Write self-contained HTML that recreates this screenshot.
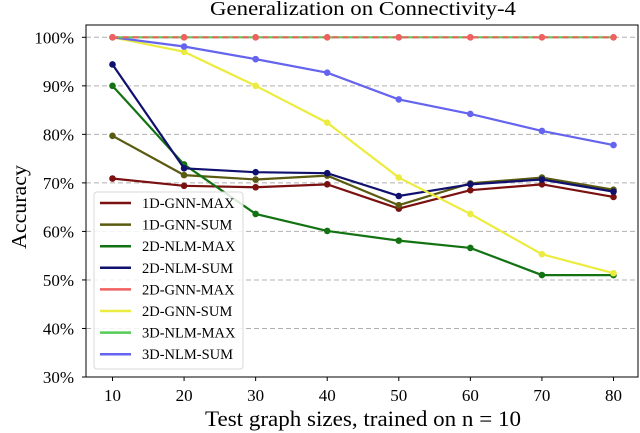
<!DOCTYPE html>
<html><head><meta charset="utf-8"><style>
body{margin:0;background:#fff;}
svg{display:block;font-family:"Liberation Serif",serif;}
</style></head><body>
<svg id="chart" width="640" height="433" viewBox="0 0 640 433"></svg>
<script>
const categories=[10,20,30,40,50,60,70,80];
const yTicks=[30,40,50,60,70,80,90,100];
const seriesNames=["1D-GNN-MAX","1D-GNN-SUM","2D-NLM-MAX","2D-NLM-SUM","2D-GNN-MAX","2D-GNN-SUM","3D-NLM-MAX","3D-NLM-SUM"];
const seriesColors=["#7b1010","#5a5a10","#137313","#10106e","#f06060","#ecec40","#55cc55","#6464ee"];
const s1dGnnMax=[70.9,69.4,69.1,69.7,64.7,68.5,69.7,67.1];
const s1dGnnSum=[79.7,71.6,70.7,71.5,65.4,69.9,71.1,68.6];
const s2dNlmMax=[90.0,73.8,63.6,60.1,58.1,56.6,51.0,51.0];
const s2dNlmSum=[94.4,73.0,72.2,72.0,67.3,69.7,70.7,68.2];
const s2dGnnMax=[100,100,100,100,100,100,100,100];
const s2dGnnSum=[100,97.0,90.0,82.4,71.1,63.6,55.3,51.4];
const s3dNlmMax=[100,100,100,100,100,100,100,100];
const s3dNlmSum=[100,98.1,95.5,92.7,87.2,84.2,80.7,77.8];
const allSeries=[s1dGnnMax,s1dGnnSum,s2dNlmMax,s2dNlmSum,s2dGnnMax,s2dGnnSum,s3dNlmMax,s3dNlmSum];
const drawOrder=[0,1,2,3,5,7,6,4];

const L=86,R=638,T=25,B=377;
const xs=v=>112.5+(v-10)*(613.5-112.5)/70;
const ys=v=>B-(v-30)*(B-37.3)/70;
const svg=document.getElementById('chart');
const NS="http://www.w3.org/2000/svg";
function mk(tag,attrs,parent){const e=document.createElementNS(NS,tag);for(const k in attrs)e.setAttribute(k,attrs[k]);(parent||svg).appendChild(e);return e;}

let t=mk('text',{x:363,y:15,'text-anchor':'middle','font-size':20,fill:'#000',textLength:306,lengthAdjust:'spacingAndGlyphs'});
t.textContent="Generalization on Connectivity-4";



yTicks.forEach(v=>{
  const y=ys(v);
  if(v>30){const g=mk('line',{x1:L,x2:R,y1:y,y2:y,stroke:'#b0b0b0','stroke-width':1,'stroke-dasharray':'5,3'});
  
  }
  mk('line',{x1:L-4,x2:L,y1:y,y2:y,stroke:'#000'});
  const lab=mk('text',{x:L-12,y:y+6,'text-anchor':'end','font-size':17,fill:'#000'});
  lab.textContent=v+"%";
  
  
});
categories.forEach(c=>{
  const x=xs(c);
  mk('line',{x1:x,x2:x,y1:B,y2:B+4,stroke:'#000'});
  const lab=mk('text',{x:x,y:401,'text-anchor':'middle','font-size':17,fill:'#000'});
  lab.textContent=c;
  
  
});
t=mk('text',{x:363,y:426,'text-anchor':'middle','font-size':22,fill:'#000',textLength:316,lengthAdjust:'spacingAndGlyphs'});
t.textContent="Test graph sizes, trained on n = 10";


t=mk('text',{x:0,y:0,'text-anchor':'middle','font-size':21,fill:'#000',textLength:84,lengthAdjust:'spacingAndGlyphs',transform:`translate(26,${(T+B)/2+6}) rotate(-90)`});
t.textContent="Accuracy";



drawOrder.forEach(i=>{
  const d=allSeries[i];
  const pts=categories.map((c,j)=>xs(c)+","+ys(d[j])).join(" ");
  const attrs={points:pts,fill:'none',stroke:seriesColors[i],'stroke-width':2.2};
  if(i===4)attrs['stroke-dasharray']='6,4';
  const pl=mk('polyline',attrs);
  
  
  categories.forEach((c,j)=>{
    const dot=mk('circle',{cx:xs(c),cy:ys(d[j]),r:3.3,fill:seriesColors[i]});
    
    
  });
});

const frame=mk('rect',{x:L,y:T,width:R-L,height:B-T,fill:'none',stroke:'#000','stroke-width':1});



const lg=mk('g',{});


mk('rect',{x:94,y:192,width:149,height:177,rx:3,fill:'#fff','fill-opacity':0.85,stroke:'#d8d8d8'},lg);
seriesNames.forEach((n,i)=>{
  const y=203+i*21.6;
  const ln=mk('line',{x1:100,x2:131,y1:y,y2:y,stroke:seriesColors[i],'stroke-width':2.5},lg);
  
  
  const tx=mk('text',{x:142,y:y+5,'font-size':14.5,fill:'#000'},lg);
  tx.textContent=n;
  
  
});
</script>
</body></html>
